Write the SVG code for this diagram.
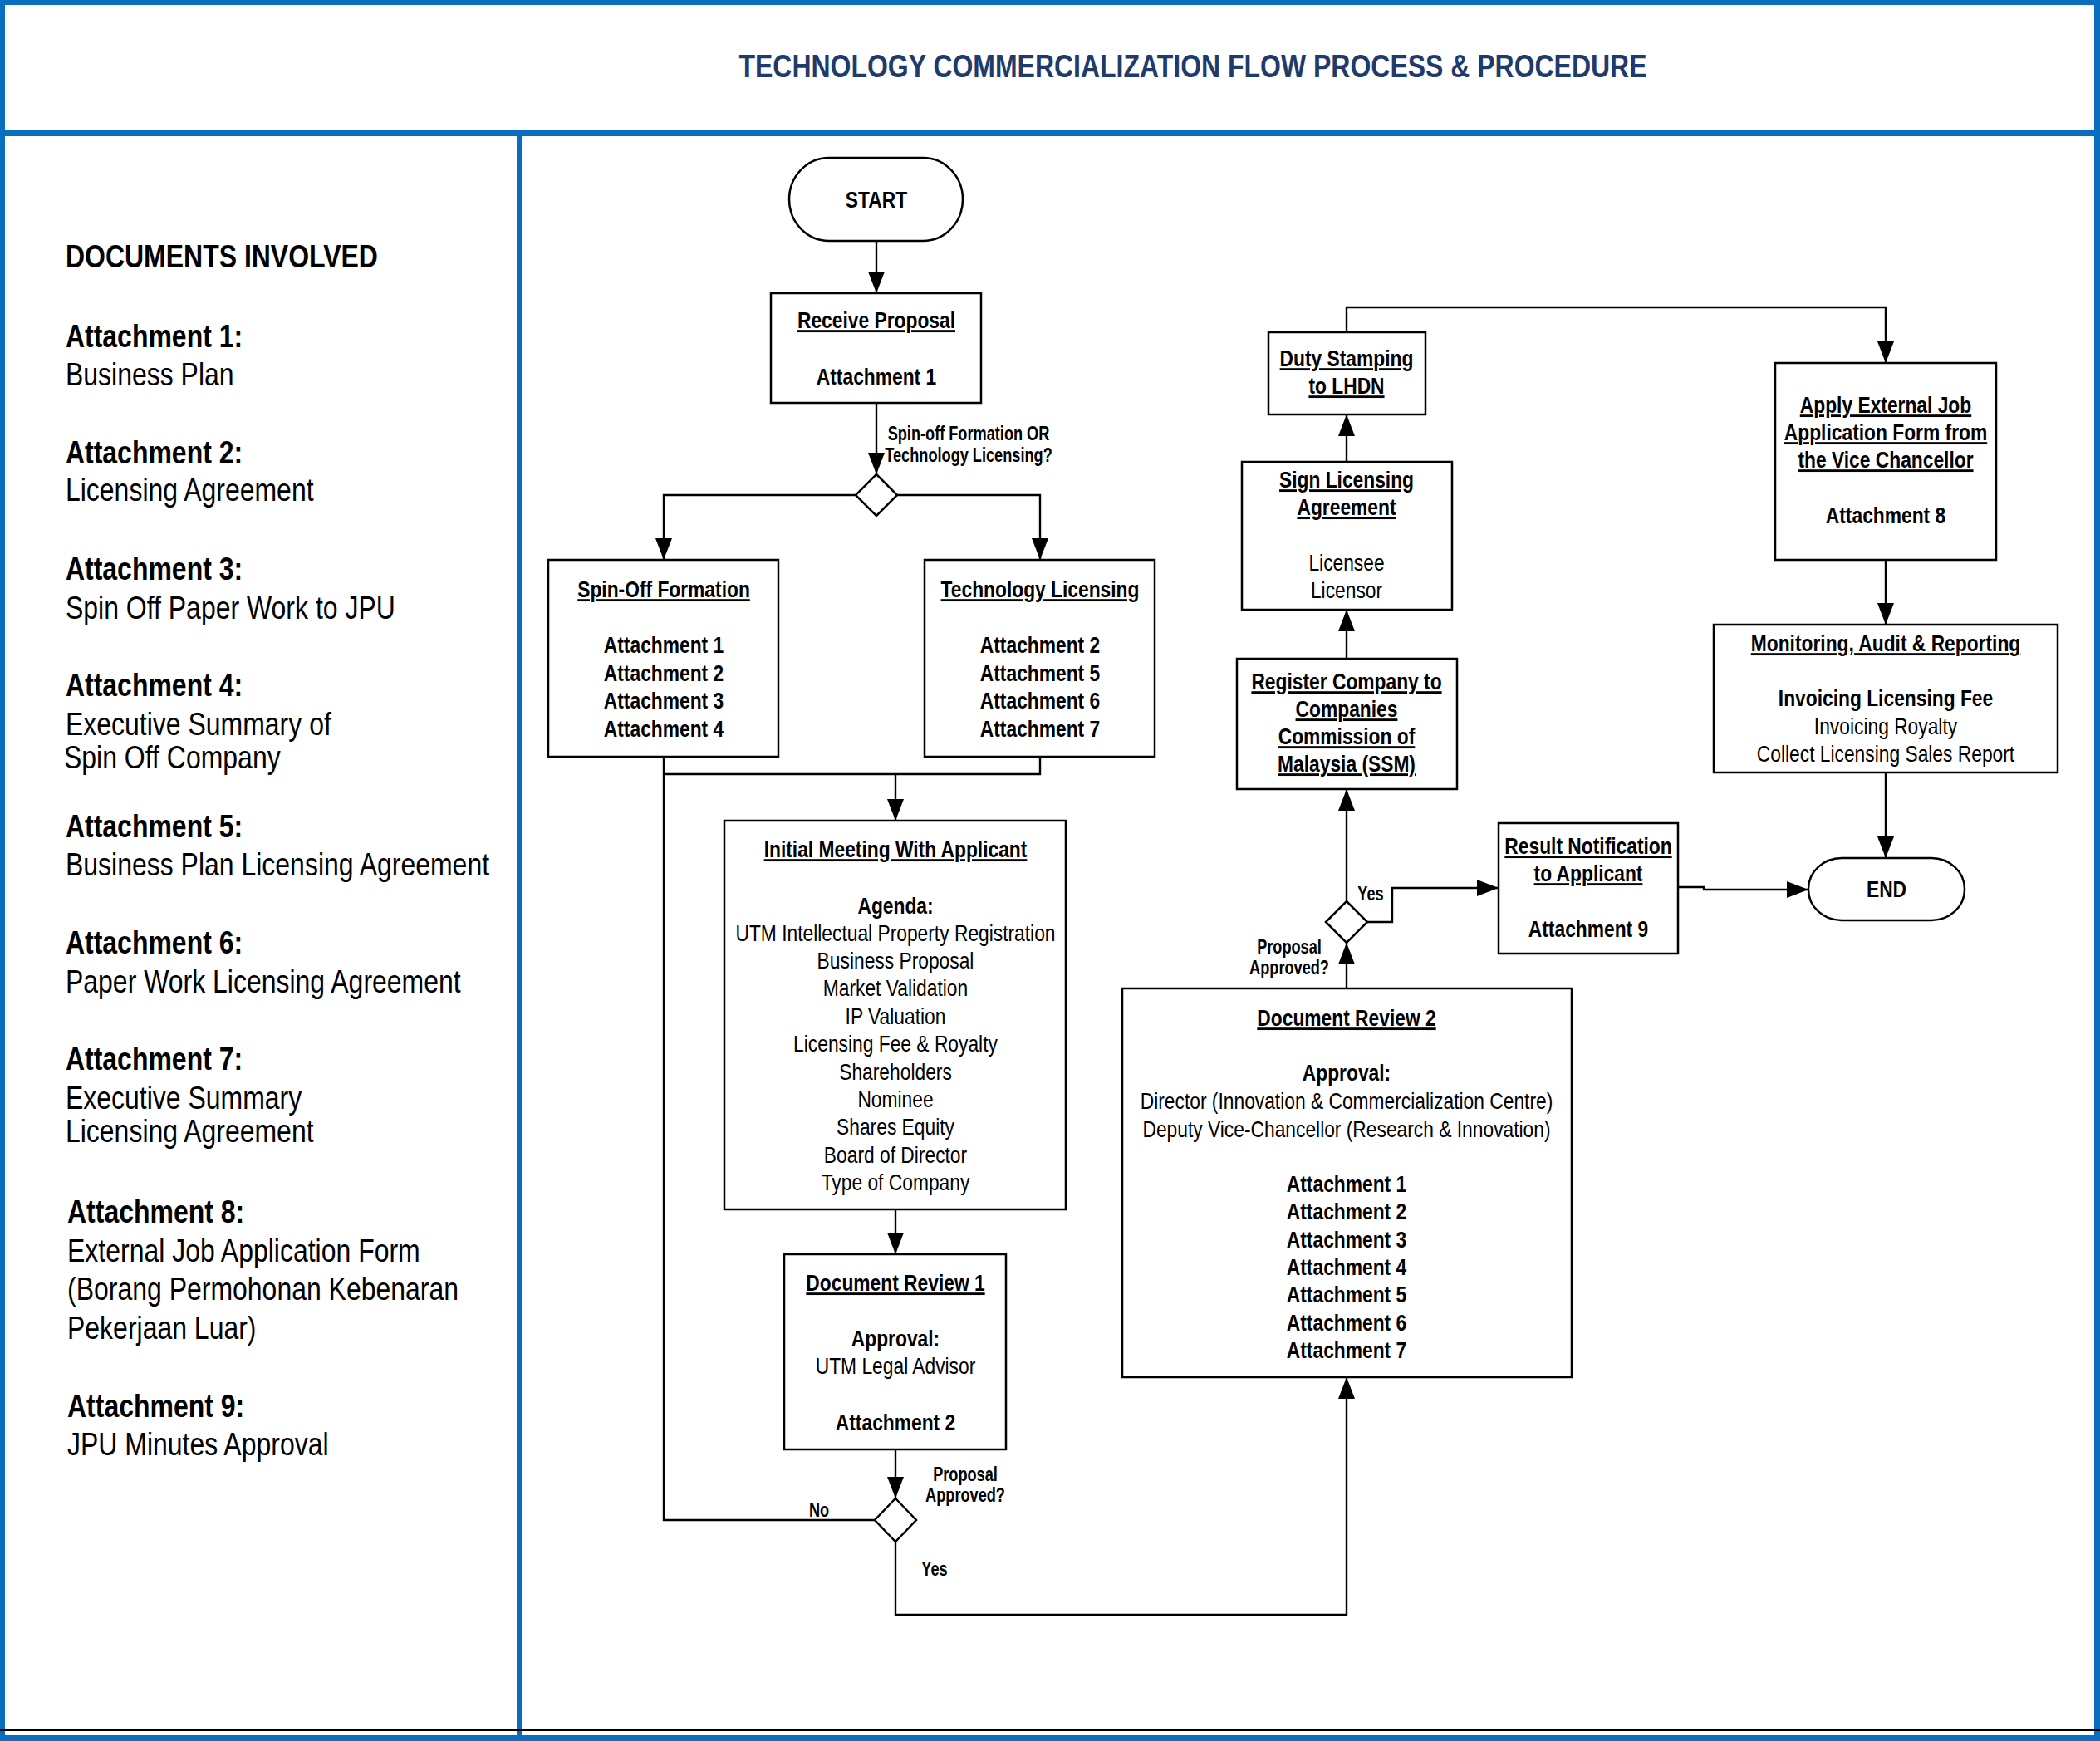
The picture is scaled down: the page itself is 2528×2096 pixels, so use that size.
<svg xmlns="http://www.w3.org/2000/svg" width="2528" height="2096" viewBox="0 0 2528 2096">
<defs>
<style>
text{font-family:"Liberation Sans",Arial,sans-serif;fill:#000}
.t{font-size:28.5px;text-anchor:middle}
.b{font-weight:bold}
.u{text-decoration:underline}
.lbl{font-size:23px;font-weight:bold;text-anchor:middle}
.side{font-size:39px}
.box{fill:#fff;stroke:#000;stroke-width:2.5}
.frame{fill:#0A6EBE}
#connectors path{fill:none;stroke:#000;stroke-width:2.4}
</style>
<marker id="arr" markerUnits="userSpaceOnUse" markerWidth="26" markerHeight="20" refX="26" refY="10" orient="auto">
<path d="M0,0 L26,10 L0,20 z" fill="#000"/>
</marker>
</defs>
<rect width="2528" height="2096" fill="#fff"/>
<g id="frame">
<rect class="frame" x="0" y="0" width="2528" height="6"/>
<rect class="frame" x="0" y="0" width="6" height="2096"/>
<rect class="frame" x="2521" y="0" width="7" height="2096"/>
<rect class="frame" x="0" y="157" width="2528" height="7"/>
<rect class="frame" x="622" y="160" width="6" height="1936"/>
<rect x="0" y="2081" width="2528" height="3" fill="#000"/>
<rect class="frame" x="0" y="2089" width="2528" height="7"/>
</g>
<g id="title" transform="translate(1436 0) scale(0.82 1)">
<text x="0" y="93" font-size="39" font-weight="bold" text-anchor="middle" style="fill:#1F3B6B">TECHNOLOGY COMMERCIALIZATION FLOW PROCESS &amp; PROCEDURE</text>
</g>
<g id="documents" transform="scale(0.82 1)">
<text class="side b" x="96.3" y="322" font-size="40">DOCUMENTS INVOLVED</text>
<text class="side b" x="96.3" y="418">Attachment 1:</text>
<text class="side" x="96.3" y="464">Business Plan</text>
<text class="side b" x="96.3" y="558">Attachment 2:</text>
<text class="side" x="96.3" y="603">Licensing Agreement</text>
<text class="side b" x="96.3" y="698">Attachment 3:</text>
<text class="side" x="96.3" y="745">Spin Off Paper Work to JPU</text>
<text class="side b" x="96.3" y="838">Attachment 4:</text>
<text class="side" x="96.3" y="885">Executive Summary of</text>
<text class="side" x="93.9" y="925">Spin Off Company</text>
<text class="side b" x="96.3" y="1008">Attachment 5:</text>
<text class="side" x="96.3" y="1054">Business Plan Licensing Agreement</text>
<text class="side b" x="96.3" y="1148">Attachment 6:</text>
<text class="side" x="96.3" y="1195">Paper Work Licensing Agreement</text>
<text class="side b" x="96.3" y="1288">Attachment 7:</text>
<text class="side" x="96.3" y="1335">Executive Summary</text>
<text class="side" x="96.3" y="1375">Licensing Agreement</text>
<text class="side b" x="98.8" y="1472">Attachment 8:</text>
<text class="side" x="98.8" y="1519">External Job Application Form</text>
<text class="side" x="98.8" y="1565">(Borang Permohonan Kebenaran</text>
<text class="side" x="98.8" y="1612">Pekerjaan Luar)</text>
<text class="side b" x="98.8" y="1706">Attachment 9:</text>
<text class="side" x="98.8" y="1752">JPU Minutes Approval</text>
</g>
<g id="connectors">
<path d="M1055 290 V353" marker-end="url(#arr)"/>
<path d="M1055 485 V571" marker-end="url(#arr)"/>
<path d="M1030 596 H799 V674" marker-end="url(#arr)"/>
<path d="M1080 596 H1252 V674" marker-end="url(#arr)"/>
<path d="M1053 1830 H799 V911"/>
<path d="M1252 911 V932 H799"/>
<path d="M1078 932 V988" marker-end="url(#arr)"/>
<path d="M1078 1456 V1510" marker-end="url(#arr)"/>
<path d="M1078 1745 V1804" marker-end="url(#arr)"/>
<path d="M1078 1856 V1944 H1621 V1658" marker-end="url(#arr)"/>
<path d="M1621 1190 V1135" marker-end="url(#arr)"/>
<path d="M1621 1085 V950" marker-end="url(#arr)"/>
<path d="M1646 1110 H1676 V1069 H1804" marker-end="url(#arr)"/>
<path d="M1621 793 V734" marker-end="url(#arr)"/>
<path d="M1621 556 V499" marker-end="url(#arr)"/>
<path d="M1621 400 V370 H2270 V437" marker-end="url(#arr)"/>
<path d="M2270 674 V752" marker-end="url(#arr)"/>
<path d="M2270 930 V1033" marker-end="url(#arr)"/>
<path d="M2020 1068 H2051 V1071 H2177" marker-end="url(#arr)"/>
</g>
<g id="start">
<rect class="box" x="950" y="190" width="209" height="100" rx="48" ry="50"/>
<g transform="translate(1055 0) scale(0.8 1)"><text class="t b" x="0" y="250">START</text></g>
</g>
<g id="receive-proposal">
<rect class="box" x="928" y="353" width="253" height="132"/>
<g transform="translate(1055 0) scale(0.8 1)">
<text class="t b u" x="0" y="395">Receive Proposal</text>
<text class="t b" x="0" y="463">Attachment 1</text>
</g>
</g>
<g id="decision-type">
<polygon class="box" points="1055,571 1080,596 1055,621 1030,596"/>
<g transform="translate(1166 0) scale(0.79 1)">
<text class="lbl" x="0" y="530">Spin-off Formation OR</text>
<text class="lbl" x="0" y="556">Technology Licensing?</text>
</g>
</g>
<g id="spin-off">
<rect class="box" x="660" y="674" width="277" height="237"/>
<g transform="translate(799 0) scale(0.8 1)">
<text class="t b u" x="0" y="719">Spin-Off Formation</text>
<text class="t b" x="0" y="786">Attachment 1</text>
<text class="t b" x="0" y="820">Attachment 2</text>
<text class="t b" x="0" y="853">Attachment 3</text>
<text class="t b" x="0" y="887">Attachment 4</text>
</g>
</g>
<g id="tech-licensing">
<rect class="box" x="1113" y="674" width="277" height="237"/>
<g transform="translate(1252 0) scale(0.8 1)">
<text class="t b u" x="0" y="719">Technology Licensing</text>
<text class="t b" x="0" y="786">Attachment 2</text>
<text class="t b" x="0" y="820">Attachment 5</text>
<text class="t b" x="0" y="853">Attachment 6</text>
<text class="t b" x="0" y="887">Attachment 7</text>
</g>
</g>
<g id="initial-meeting">
<rect class="box" x="872" y="988" width="411" height="468"/>
<g transform="translate(1078 0) scale(0.8 1)">
<text class="t b u" x="0" y="1032">Initial Meeting With Applicant</text>
<text class="t b" x="0" y="1100">Agenda:</text>
<text class="t" x="0" y="1133">UTM Intellectual Property Registration</text>
<text class="t" x="0" y="1166">Business Proposal</text>
<text class="t" x="0" y="1199">Market Validation</text>
<text class="t" x="0" y="1233">IP Valuation</text>
<text class="t" x="0" y="1266">Licensing Fee &amp; Royalty</text>
<text class="t" x="0" y="1300">Shareholders</text>
<text class="t" x="0" y="1333">Nominee</text>
<text class="t" x="0" y="1366">Shares Equity</text>
<text class="t" x="0" y="1400">Board of Director</text>
<text class="t" x="0" y="1433">Type of Company</text>
</g>
</g>
<g id="document-review-1">
<rect class="box" x="944" y="1510" width="267" height="235"/>
<g transform="translate(1078 0) scale(0.8 1)">
<text class="t b u" x="0" y="1554">Document Review 1</text>
<text class="t b" x="0" y="1621">Approval:</text>
<text class="t" x="0" y="1654">UTM Legal Advisor</text>
<text class="t b" x="0" y="1722">Attachment 2</text>
</g>
</g>
<g id="decision-1">
<polygon class="box" points="1078,1804 1103,1830 1078,1856 1053,1830"/>
<g transform="translate(1162 0) scale(0.79 1)">
<text class="lbl" x="0" y="1783">Proposal</text>
<text class="lbl" x="0" y="1808">Approved?</text>
</g>
<g transform="translate(986 0) scale(0.79 1)"><text class="lbl" x="0" y="1826">No</text></g>
<g transform="translate(1125 0) scale(0.79 1)"><text class="lbl" x="0" y="1897">Yes</text></g>
</g>
<g id="document-review-2">
<rect class="box" x="1351" y="1190" width="541" height="468"/>
<g transform="translate(1621 0) scale(0.8 1)">
<text class="t b u" x="0" y="1235">Document Review 2</text>
<text class="t b" x="0" y="1301">Approval:</text>
<text class="t" x="0" y="1335">Director (Innovation &amp; Commercialization Centre)</text>
<text class="t" x="0" y="1369">Deputy Vice-Chancellor (Research &amp; Innovation)</text>
<text class="t b" x="0" y="1435">Attachment 1</text>
<text class="t b" x="0" y="1468">Attachment 2</text>
<text class="t b" x="0" y="1502">Attachment 3</text>
<text class="t b" x="0" y="1535">Attachment 4</text>
<text class="t b" x="0" y="1568">Attachment 5</text>
<text class="t b" x="0" y="1602">Attachment 6</text>
<text class="t b" x="0" y="1635">Attachment 7</text>
</g>
</g>
<g id="decision-2">
<polygon class="box" points="1621,1085 1646,1110 1621,1135 1596,1110"/>
<g transform="translate(1552 0) scale(0.79 1)">
<text class="lbl" x="0" y="1148">Proposal</text>
<text class="lbl" x="0" y="1173">Approved?</text>
</g>
<g transform="translate(1650 0) scale(0.79 1)"><text class="lbl" x="0" y="1084">Yes</text></g>
</g>
<g id="register-company">
<rect class="box" x="1489" y="793" width="265" height="157"/>
<g transform="translate(1621 0) scale(0.8 1)">
<text class="t b u" x="0" y="830">Register Company to</text>
<text class="t b u" x="0" y="863">Companies</text>
<text class="t b u" x="0" y="896">Commission of</text>
<text class="t b u" x="0" y="929">Malaysia (SSM)</text>
</g>
</g>
<g id="sign-licensing">
<rect class="box" x="1495" y="556" width="253" height="178"/>
<g transform="translate(1621 0) scale(0.8 1)">
<text class="t b u" x="0" y="587">Sign Licensing</text>
<text class="t b u" x="0" y="620">Agreement</text>
<text class="t" x="0" y="687">Licensee</text>
<text class="t" x="0" y="720">Licensor</text>
</g>
</g>
<g id="duty-stamping">
<rect class="box" x="1527" y="400" width="189" height="99"/>
<g transform="translate(1621 0) scale(0.8 1)">
<text class="t b u" x="0" y="441">Duty Stamping</text>
<text class="t b u" x="0" y="474">to LHDN</text>
</g>
</g>
<g id="apply-external-job">
<rect class="box" x="2137" y="437" width="266" height="237"/>
<g transform="translate(2270 0) scale(0.8 1)">
<text class="t b u" x="0" y="497">Apply External Job</text>
<text class="t b u" x="0" y="530">Application Form from</text>
<text class="t b u" x="0" y="563">the Vice Chancellor</text>
<text class="t b" x="0" y="630">Attachment 8</text>
</g>
</g>
<g id="monitoring">
<rect class="box" x="2063" y="752" width="414" height="178"/>
<g transform="translate(2270 0) scale(0.8 1)">
<text class="t b u" x="0" y="784">Monitoring, Audit &amp; Reporting</text>
<text class="t b" x="0" y="850">Invoicing Licensing Fee</text>
<text class="t" x="0" y="884">Invoicing Royalty</text>
<text class="t" x="0" y="917">Collect Licensing Sales Report</text>
</g>
</g>
<g id="result-notification">
<rect class="box" x="1804" y="991" width="216" height="157"/>
<g transform="translate(1912 0) scale(0.8 1)">
<text class="t b u" x="0" y="1028">Result Notification</text>
<text class="t b u" x="0" y="1061">to Applicant</text>
<text class="t b" x="0" y="1128">Attachment 9</text>
</g>
</g>
<g id="end">
<rect class="box" x="2177" y="1033" width="188" height="75" rx="40" ry="37"/>
<g transform="translate(2271 0) scale(0.8 1)"><text class="t b" x="0" y="1080">END</text></g>
</g>
</svg>
